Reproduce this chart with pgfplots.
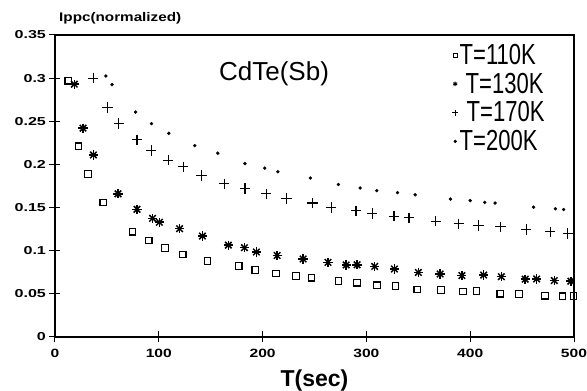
\documentclass[border=0pt]{standalone}
\usepackage{pgfplots}
\pgfplotsset{compat=1.18}
\usepackage{fontspec}
\setmainfont{Liberation Sans}
\begin{document}
\begin{tikzpicture}
\useasboundingbox (-55pt,-54pt) rectangle (532pt,337pt);
\begin{axis}[
  at={(0pt,0pt)}, anchor=south west,
  width=519pt, height=302pt, scale only axis,
  xmin=0, xmax=500, ymin=0, ymax=0.35,
  clip=false,
  axis line style={line width=1.1pt},
  xtick={0,100,200,300,400,500},
  ytick={0,0.05,0.1,0.15,0.2,0.25,0.3,0.35},
  yticklabels={0,0.05,0.1,0.15,0.2,0.25,0.3,0.35},
  xticklabels={0,100,200,300,400,500},
  xtick pos=bottom, ytick pos=left,
  tick align=center,
  major tick length=11pt,
  tick style={line width=1pt, black},
  yticklabel style={font=\bfseries\fontsize{11.5}{13}\selectfont, xscale=1.4, xshift=1pt},
  xticklabel style={font=\bfseries\fontsize{12}{14}\selectfont, xscale=1.3, yshift=-3pt},
  xlabel={T(sec)},
  every axis x label/.style={at={(axis description cs:0.5,0)}, anchor=base, yshift=-49pt, font=\bfseries\fontsize{23}{26}\selectfont},
  legend style={at={(rel axis cs:0.765,0.975)}, anchor=north west, draw=none, fill=none,
    font=\fontsize{29}{29}\selectfont, row sep=4pt, inner sep=0pt,
    nodes={inner sep=1.5pt}},
  legend cell align=left,
]
\addlegendimage{only marks, mark=square, mark size=2pt, line width=0.8pt}
\addlegendentry{\scalebox{0.76}[1]{T=110K}}
\addlegendimage{only marks, mark=asterisk, mark size=2.3pt, line width=1pt}
\addlegendentry{\hspace{6pt}\scalebox{0.76}[1]{T=130K}}
\addlegendimage{only marks, mark=+, mark size=3pt, line width=1pt}
\addlegendentry{\hspace{7pt}\scalebox{0.76}[1]{T=170K}}
\addlegendimage{only marks, mark=*, mark size=1.4pt}
\addlegendentry{\scalebox{0.76}[1]{T=200K}}

% T=110K
\addplot[only marks, mark=square, mark size=3.3pt, line width=1.1pt, forget plot] coordinates {
(12.8,0.297) (22.6,0.221) (31.7,0.189) (46.5,0.156) (74.8,0.122) (90.3,0.112)
(105.8,0.103) (123,0.0956) (147,0.088) (177,0.082) (193,0.0777) (213,0.0736)
(232,0.0705) (247,0.0687) (273,0.0648) (291,0.0629) (310,0.0599) (328,0.0592)
(349,0.0551) (372,0.0545) (393,0.0527) (406,0.0531) (429,0.0502) (447,0.0496)
(472,0.0479) (489,0.0472) (499.5,0.0474)
};
% T=130K (eight-armed stars: + and x at the same points)
\pgfplotstableread{
x y
18.6 0.293
27 0.242
37 0.211
60.7 0.166
79 0.148
94 0.1375
100.6 0.133
120 0.1255
142 0.117
167 0.1065
182.5 0.1035
194 0.0985
214 0.0945
239 0.0904
263 0.0865
280.5 0.0835
291 0.0837
308 0.0818
327 0.0788
350 0.0748
371 0.073
392 0.0712
413 0.0718
430 0.0699
453 0.067
464 0.0673
481 0.0654
497 0.0647
}\starsdata
\addplot[only marks, mark=+, mark size=4.6pt, line width=1.5pt, forget plot] table {\starsdata};
\addplot[only marks, mark=x, mark size=4.6pt, line width=1.5pt, forget plot] table {\starsdata};
% T=170K
\addplot[only marks, mark=+, mark size=5.2pt, line width=1.1pt, forget plot] coordinates {
(36.7,0.300) (50.7,0.266) (61.5,0.2476) (79,0.2284) (92.6,0.216) (109,0.205)
(123.6,0.1972) (141,0.1873) (163,0.1775) (183,0.172) (203.5,0.1658) (223,0.1605)
(248,0.1553) (266,0.150) (290,0.1461) (305.5,0.1429) (326.6,0.140) (341,0.138)
(367,0.1342) (389,0.1312) (408,0.1294) (429,0.1276) (454,0.1248) (477,0.1219)
(494,0.1201)
};
% T=200K
\addplot[only marks, mark=*, mark size=1.5pt, forget plot] coordinates {
(49,0.3025) (55,0.2925) (77.6,0.2607) (93,0.2473) (109.6,0.2361) (134.7,0.2218)
(156.8,0.213) (183,0.201) (202,0.1957) (214.7,0.1915) (246,0.1842) (273,0.1768)
(294,0.1727) (310,0.1696) (330,0.1673) (347,0.1648) (381,0.1599) (400,0.1581)
(414,0.1561) (424,0.1552) (461,0.1504) (482,0.1486) (490,0.1477)
};
\node[font=\fontsize{26}{28}\selectfont] at (axis cs:211,0.305) {CdTe(Sb)};
\node[font=\bfseries\fontsize{12.5}{14}\selectfont, anchor=base west, inner sep=0pt] at ([xshift=4pt, yshift=13pt]rel axis cs:0,1) {\scalebox{1.22}[1]{Ippc(normalized)}};
\end{axis}
\end{tikzpicture}
\end{document}
